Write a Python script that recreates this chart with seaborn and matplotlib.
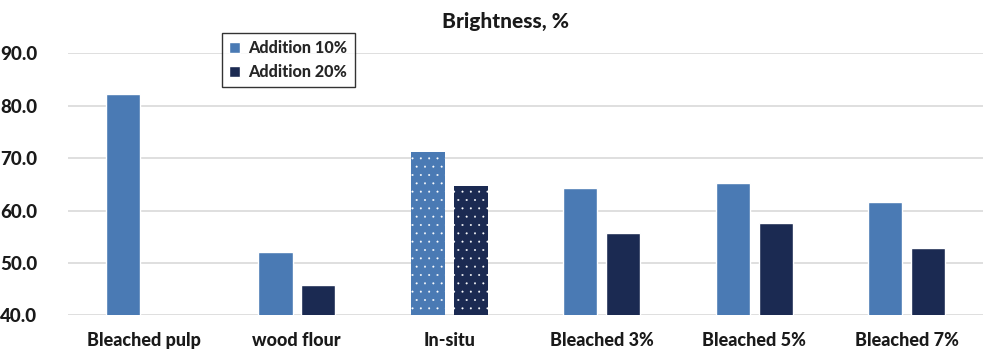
import matplotlib
matplotlib.use("Agg")
import matplotlib.pyplot as plt
import seaborn as sns
import pandas as pd
from matplotlib.patches import Patch

categories = ["Bleached pulp", "wood flour", "In-situ", "Bleached 3%", "Bleached 5%", "Bleached 7%"]
series_names = ["Addition 10%", "Addition 20%"]
add10 = [82.2, 52.1, 71.2, 64.4, 65.2, 61.6]
add20 = [None, 45.8, 64.7, 55.7, 57.7, 52.9]
yticks = [40.0, 50.0, 60.0, 70.0, 80.0, 90.0]
colors = ["#4a7ab4", "#1b2a52"]

rows = []
for c, a, b in zip(categories, add10, add20):
    rows.append({"cat": c, "series": series_names[0], "value": a})
    if b is not None:
        rows.append({"cat": c, "series": series_names[1], "value": b})
df = pd.DataFrame(rows)

sns.set_theme(style="white")
plt.rcParams["font.family"] = ["Lato", "DejaVu Sans"]
plt.rcParams["hatch.linewidth"] = 0.2

fig = plt.figure(figsize=(10.01, 3.63), dpi=100)
ax = fig.add_axes([0.068, 0.131, 0.914, 0.722])

sns.barplot(data=df, x="cat", y="value", hue="series", order=categories,
            hue_order=series_names, palette=colors, width=0.56, gap=0.2,
            ax=ax, legend=False, saturation=1)

ax.set_ylim(40, 90)
ax.set_yticks(yticks)
ax.set_yticklabels([f"{v:.1f}" for v in yticks], fontsize=13.5, fontweight="black", color="#1a1a1a")
ax.tick_params(axis="x", labelsize=13, pad=12, length=0)
ax.tick_params(axis="y", pad=22, length=0)
for lbl in ax.get_xticklabels():
    lbl.set_fontweight("black")
    lbl.set_color("#1a1a1a")
ax.set_xlim(-0.5, len(categories) - 0.5)
ax.set_xlabel("")
ax.set_ylabel("")
ax.grid(axis="y", color="#d9d9d9", linewidth=1.2)
ax.set_axisbelow(True)
for s in ["top", "right", "left", "bottom"]:
    ax.spines[s].set_visible(False)

# dotted pattern on the In-situ bars
idx = categories.index("In-situ")
for p in ax.patches:
    cx = p.get_x() + p.get_width() / 2
    if abs(cx - idx) < 0.5 and p.get_height() > 0:
        p.set_hatch("..")
        p.set_edgecolor("white")
        p.set_linewidth(0)

ax.set_title("Brightness, %", fontsize=15, fontweight="black", pad=18,
             color="#1a1a1a", x=0.478)

handles = [Patch(facecolor=colors[0], label=series_names[0]),
           Patch(facecolor=colors[1], label=series_names[1])]
leg = ax.legend(handles=handles, loc="upper left", bbox_to_anchor=(0.159, 1.11),
                frameon=True, fancybox=False, handlelength=0.7, handleheight=0.7,
                handletextpad=0.5, borderpad=0.45, labelspacing=0.5,
                prop={"weight": "black", "size": 11.6})
leg.get_frame().set_edgecolor("black")
leg.get_frame().set_linewidth(1.0)

fig.savefig("out.png", dpi=100)
